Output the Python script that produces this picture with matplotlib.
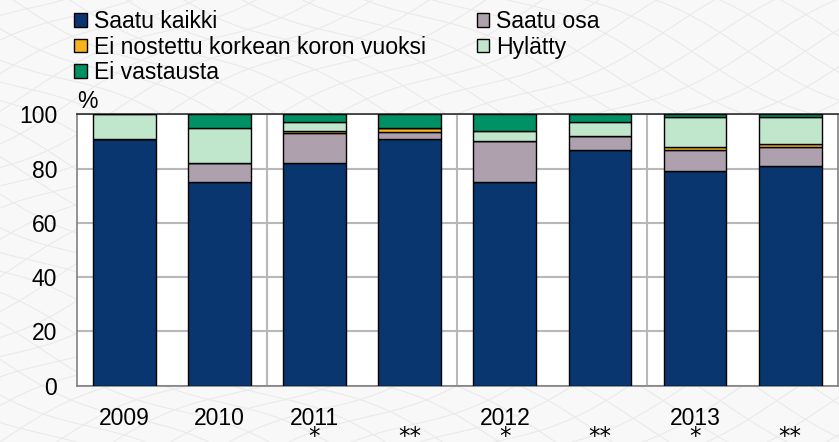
import matplotlib
matplotlib.use("Agg")
import matplotlib.pyplot as plt
import numpy as np

plt.rcParams['font.family'] = ['Liberation Sans', 'DejaVu Sans']

# Share of loan applications by outcome, %
labels = ["2009", "2010", "2011\n⁎", "\n⁎⁎", "2012\n⁎", "\n⁎⁎", "2013\n⁎", "\n⁎⁎"]
saatu_kaikki = [91, 75, 82, 91, 75, 87, 79, 81]
saatu_osa = [0, 7, 11, 2.5, 15, 5, 8, 7]
ei_nostettu = [0, 0, 1, 1.5, 0, 0, 1, 1]
hylatty = [9, 13, 3, 0, 4, 5, 11, 10]
ei_vastausta = [0, 5, 3, 5, 6, 3, 1, 1]

series = [
    ("Saatu kaikki", saatu_kaikki, "#0a3670"),
    ("Saatu osa", saatu_osa, "#afa0ae"),
    ("Ei nostettu korkean koron vuoksi", ei_nostettu, "#f9b21f"),
    ("Hylätty", hylatty, "#c0e6cc"),
    ("Ei vastausta", ei_vastausta, "#009066"),
]

fig = plt.figure(figsize=(8.39, 4.42), dpi=100)
fig.patch.set_facecolor("#f8f8f8")

# faint woven background texture
bg = fig.add_axes([0, 0, 1, 1], zorder=-10)
bg.set_axis_off()
bg.set_xlim(0, 839)
bg.set_ylim(0, 442)
t = np.linspace(-100, 940, 600)
for k in range(-30, 40):
    off = k * 28
    bg.plot(t, 0.45 * t + off + 10 * np.sin(t / 45.0 + k), color="#eaeaea", lw=0.8)
    bg.plot(t, -0.45 * t + off + 10 * np.sin(t / 45.0 - k), color="#eaeaea", lw=0.8)

ax = fig.add_axes([0.0914, 0.1274, 0.9071, 0.614])
ax.set_facecolor("white")

x = np.arange(len(labels))
bottom = np.zeros(len(labels))
handles = {}
for name, vals, color in series:
    vals = np.array(vals, dtype=float)
    b = ax.bar(x, vals, 0.66, bottom=bottom, color=color, edgecolor="black",
               linewidth=1.0, label=name, zorder=3)
    handles[name] = b
    bottom += vals

ax.set_xlim(-0.5, len(labels) - 0.5)
ax.set_ylim(0, 100)
ax.set_yticks([0, 20, 40, 60, 80, 100])
ax.set_xticks(x)
ax.set_xticklabels(labels, linespacing=0.36)
ax.tick_params(axis="both", length=0, labelsize=16.5)
ax.tick_params(axis="x", pad=15.3)
ax.tick_params(axis="y", pad=14)
ax.yaxis.grid(True, color="#b8b8b8", linewidth=1.5, zorder=0)
for sep in [1.5, 3.5, 5.5]:
    ax.axvline(sep, color="#b8b8b8", linewidth=1.5, zorder=0)
for side, sp in ax.spines.items():
    sp.set_color("#808080")
    sp.set_linewidth(1.2)
ax.spines["top"].set_color("#303030")

ax.text(0.0, 1.005, "%", transform=ax.transAxes, fontsize=16.5,
        ha="left", va="bottom")

order = ["Saatu kaikki", "Ei nostettu korkean koron vuoksi", "Ei vastausta",
         "Saatu osa", "Hylätty"]
fig.legend([handles[n] for n in order], order, ncol=2, loc="upper left",
           bbox_to_anchor=(0.072, 1.008), frameon=False, fontsize=16.6,
           handlelength=0.55, handleheight=0.55, handletextpad=0.3,
           columnspacing=2.2, labelspacing=0.1, borderaxespad=0.2)

fig.savefig("out.png", dpi=100, facecolor=fig.get_facecolor())
